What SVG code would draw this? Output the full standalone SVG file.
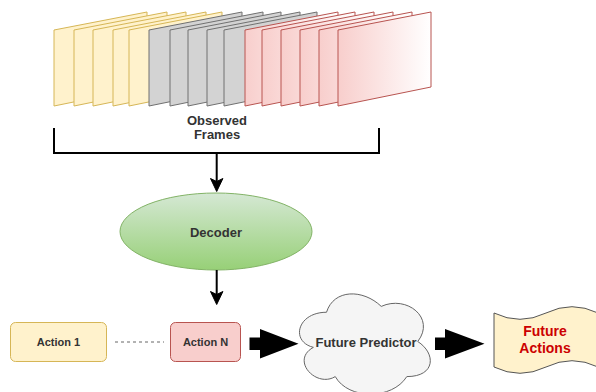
<svg xmlns="http://www.w3.org/2000/svg" xmlns:xlink="http://www.w3.org/1999/xlink" width="596" height="392" viewBox="0 0 596 392">
<style>
  text { font-family: "Liberation Sans", Arial, Helvetica, sans-serif; font-weight: bold; text-anchor: middle; dominant-baseline: central; fill: #333333; }
  .fy { fill: #fff2cc; stroke: #d6b656; stroke-width: 1; }
  .fg { fill: #d3d3d3; stroke: #707070; stroke-width: 1; }
  .fr { fill: url(#redGrad); stroke: #b85450; stroke-width: 1; }
  .line { fill: none; stroke: #000000; stroke-width: 2; }
  .head { fill: #000000; stroke: #000000; stroke-width: 1; }
  .block { fill: #000000; stroke: none; }
</style>
<defs>
  <linearGradient id="redGrad" x1="0" y1="0" x2="1" y2="0">
    <stop offset="0" stop-color="#f8cecc"/>
    <stop offset="1" stop-color="#ffffff"/>
  </linearGradient>
  <linearGradient id="greenGrad" x1="0" y1="0" x2="0" y2="1">
    <stop offset="0" stop-color="#d5e8d4"/>
    <stop offset="1" stop-color="#97d077"/>
  </linearGradient>
  <polygon id="frame" points="0,18 93,0 93,75 0,94"/>
</defs>
<rect width="596" height="392" fill="#ffffff"/>

<g id="observed-frames">
  <use xlink:href="#frame" href="#frame" x="54" y="12" class="fy"/>
  <use xlink:href="#frame" href="#frame" x="74" y="12" class="fy"/>
  <use xlink:href="#frame" href="#frame" x="93" y="12" class="fy"/>
  <use xlink:href="#frame" href="#frame" x="113" y="12" class="fy"/>
  <use xlink:href="#frame" href="#frame" x="129" y="12" class="fy"/>
  <use xlink:href="#frame" href="#frame" x="149" y="12" class="fg"/>
  <use xlink:href="#frame" href="#frame" x="170" y="12" class="fg"/>
  <use xlink:href="#frame" href="#frame" x="188" y="12" class="fg"/>
  <use xlink:href="#frame" href="#frame" x="207" y="12" class="fg"/>
  <use xlink:href="#frame" href="#frame" x="224" y="12" class="fg"/>
  <use xlink:href="#frame" href="#frame" x="245" y="12" class="fr"/>
  <use xlink:href="#frame" href="#frame" x="262" y="12" class="fr"/>
  <use xlink:href="#frame" href="#frame" x="281" y="12" class="fr"/>
  <use xlink:href="#frame" href="#frame" x="300" y="12" class="fr"/>
  <use xlink:href="#frame" href="#frame" x="319" y="12" class="fr"/>
  <use xlink:href="#frame" href="#frame" x="338" y="12" class="fr"/>
  <text x="217" y="120" font-size="13">Observed</text>
  <text x="217" y="134.5" font-size="13">Frames</text>
</g>

<g id="decoder">
  <ellipse cx="216" cy="231.5" rx="96" ry="38.5" fill="url(#greenGrad)" stroke="#82b366" stroke-width="1"/>
  <text x="216" y="232" font-size="13">Decoder</text>
</g>

<g id="action-1">
  <rect x="10.5" y="322.5" width="96" height="39" rx="5" ry="5" fill="#fff2cc" stroke="#d6b656" stroke-width="1"/>
  <text x="58.5" y="342" font-size="11">Action 1</text>
</g>

<g id="action-n">
  <rect x="170.5" y="322.5" width="70" height="39" rx="5" ry="5" fill="#f8cecc" stroke="#b85450" stroke-width="1"/>
  <text x="205.5" y="342" font-size="11">Action N</text>
</g>

<g id="future-predictor">
  <path d="M326.5 312.25 C297.3 312.25 290 341.5 313.36 347.35 C290 360.22 316.28 388.3 335.26 376.6 C348.4 400 392.2 400 406.8 376.6 C436 376.6 436 353.2 417.75 341.5 C436 318.1 406.8 294.7 381.25 306.4 C363 288.85 333.8 288.85 326.5 312.25 Z" fill="#f5f5f5" stroke="#666666" stroke-width="1"/>
  <text x="366" y="342.5" font-size="13">Future Predictor</text>
</g>

<g id="future-actions">
  <path d="M494 313 Q520 325.6 546 313 Q572 300.4 598 313 L598 367 Q572 354.4 546 367 Q520 379.6 494 367 Z" fill="#fff2cc" stroke="#555555" stroke-width="1"/>
  <text x="545" y="331" font-size="14" style="fill:#cc0000">Future</text>
  <text x="545" y="348" font-size="14" style="fill:#cc0000">Actions</text>
</g>

<g id="connectors">
  <polyline class="line" points="54,128 54,153 379,153 379,128"/>
  <line class="line" x1="216.7" y1="153" x2="216.7" y2="183"/>
  <path class="head" d="M216.7 191.5 L210.5 178.5 L216.7 181.5 L222.9 178.5 Z"/>
  <line class="line" x1="216.7" y1="270" x2="216.7" y2="296"/>
  <path class="head" d="M216.7 304.5 L210.5 291.5 L216.7 294.5 L222.9 291.5 Z"/>
  <line x1="115" y1="342" x2="164" y2="342" stroke="#666666" stroke-width="1" stroke-dasharray="3 3"/>
  <polygon class="block" points="249.5,337.5 260,337.5 260,329 298.5,343.7 260,358.5 260,350 249.5,350"/>
  <polygon class="block" points="435,337.5 445,337.5 445,329 484.5,343.7 445,358.5 445,350 435,350"/>
</g>
</svg>
